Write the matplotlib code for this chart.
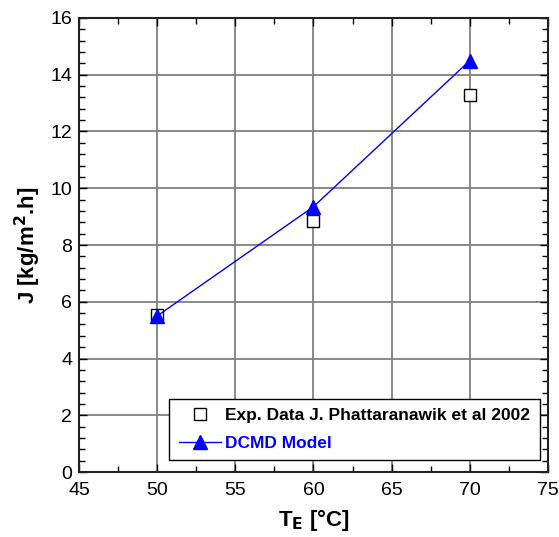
import matplotlib
matplotlib.use("Agg")
import matplotlib.pyplot as plt
from matplotlib.ticker import MultipleLocator

plt.rcParams['font.family'] = ['Liberation Sans', 'DejaVu Sans']

temps = [50, 60, 70]
exp_flux = [5.55, 8.85, 13.3]
model_flux = [5.5, 9.35, 14.5]

exp_label = "Exp. Data J. Phattaranawik et al 2002"
model_label = "DCMD Model"

fig = plt.figure(figsize=(5.59, 5.37), dpi=100)
ax = fig.add_axes([0.1413, 0.121, 0.839, 0.8455])

ax.plot(temps, exp_flux, linestyle='none', marker='s', markersize=9,
        markerfacecolor='white', markeredgecolor='black', markeredgewidth=1.0,
        label=exp_label, zorder=3)
ax.plot(temps, model_flux, color='blue', linewidth=1.0, marker='^', markersize=10,
        markerfacecolor='blue', markeredgecolor='blue', label=model_label, zorder=4)

ax.set_xlim(45, 75)
ax.set_ylim(0, 16)
ax.xaxis.set_major_locator(MultipleLocator(5))
ax.xaxis.set_minor_locator(MultipleLocator(2.5))
ax.yaxis.set_major_locator(MultipleLocator(2))
ax.yaxis.set_minor_locator(MultipleLocator(0.4))
ax.grid(True, which='major', color='#808080', linewidth=1.3)
ax.set_axisbelow(True)

ax.tick_params(which='both', direction='in', top=True, right=True, labelsize=14)
ax.tick_params(axis='x', which='major', pad=7)
ax.tick_params(axis='y', which='major', pad=5)
ax.tick_params(which='major', length=6, width=1.0)
ax.tick_params(which='minor', length=4, width=1.0)
for s in ax.spines.values():
    s.set_linewidth(1.5)
    s.set_color('#222222')

ax.set_xlabel(r"T$_\mathbf{E}$ [°C]", fontsize=16, fontweight='bold', labelpad=6)
ax.set_ylabel(r"J [kg/m$^\mathbf{2}$.h]", fontsize=16, fontweight='bold', labelpad=5)

leg = ax.legend(loc='lower right', bbox_to_anchor=(0.982, 0.026),
                prop={'weight': 'bold', 'size': 12.5}, fancybox=False, framealpha=1,
                edgecolor='black', handlelength=2.4, handletextpad=0.25,
                borderpad=0.55, borderaxespad=0.0, labelspacing=0.7)
leg.get_frame().set_linewidth(1.0)
leg.get_texts()[1].set_color('blue')

fig.savefig("out.png", dpi=100)
